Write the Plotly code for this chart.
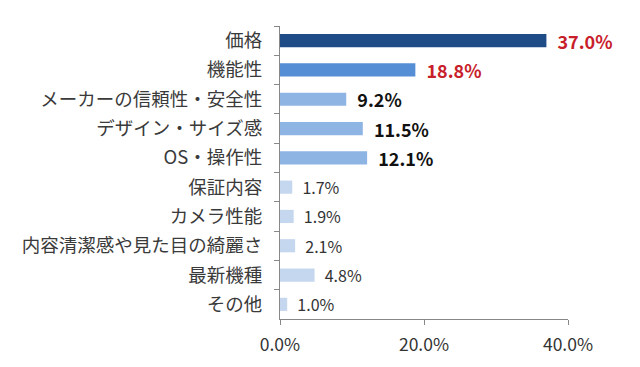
import plotly.graph_objects as go

categories = ["価格", "機能性", "メーカーの信頼性・安全性", "デザイン・サイズ感", "OS・操作性",
              "保証内容", "カメラ性能", "内容清潔感や見た目の綺麗さ", "最新機種", "その他"]
values = [37.0, 18.8, 9.2, 11.5, 12.1, 1.7, 1.9, 2.1, 4.8, 1.0]
bar_colors = ["#1F4B86", "#558ED5", "#8EB4E3", "#8EB4E3", "#8EB4E3",
              "#C5D7EF", "#C5D7EF", "#C5D7EF", "#C5D7EF", "#C5D7EF"]
label_colors = ["#C8202A", "#C8202A", "#111111", "#111111", "#111111",
                "#333333", "#333333", "#333333", "#333333", "#333333"]
label_bold = [True, True, True, True, True, False, False, False, False, False]

texts = []
for v, b in zip(values, label_bold):
    t = f"{v:.1f}%"
    texts.append("\u00a0\u00a0" + (f"<b>{t}</b>" if b else t))
sizes = [18 if b else 16 for b in label_bold]

fig = go.Figure(go.Bar(
    x=values, y=categories, orientation="h",
    marker=dict(color=bar_colors, line=dict(width=0)),
    text=texts, textposition="outside", constraintext="none",
    textfont=dict(color=label_colors, size=sizes, family="Noto Sans CJK JP"),
    cliponaxis=False, width=0.45,
))

# page body has an 8px margin, so margins are shifted to compensate
fig.update_layout(
    width=640, height=367,
    margin=dict(l=272, r=80, t=18, b=56, pad=0),
    paper_bgcolor="white", plot_bgcolor="white",
    font=dict(family="Noto Sans CJK JP", color="#333333"),
    showlegend=False,
)
fig.update_xaxes(range=[0, 40], tickvals=[0, 20, 40], ticktext=["0.0%", "20.0%", "40.0%"],
                 showgrid=False, zeroline=False, showline=True, linecolor="#888888",
                 ticks="outside", ticklen=5, tickcolor="#888888", automargin=False,
                 tickfont=dict(size=17.5, color="#333333"), ticklabelstandoff=5, fixedrange=True)
fig.update_yaxes(autorange="reversed", showgrid=False, showline=True, linecolor="#888888",
                 ticks="outside", tickson="boundaries", ticklen=5, tickcolor="#888888",
                 automargin=False,
                 tickfont=dict(size=18.5, color="#3a3a3a"), ticklabelstandoff=13)

fig.write_html("out.html")
